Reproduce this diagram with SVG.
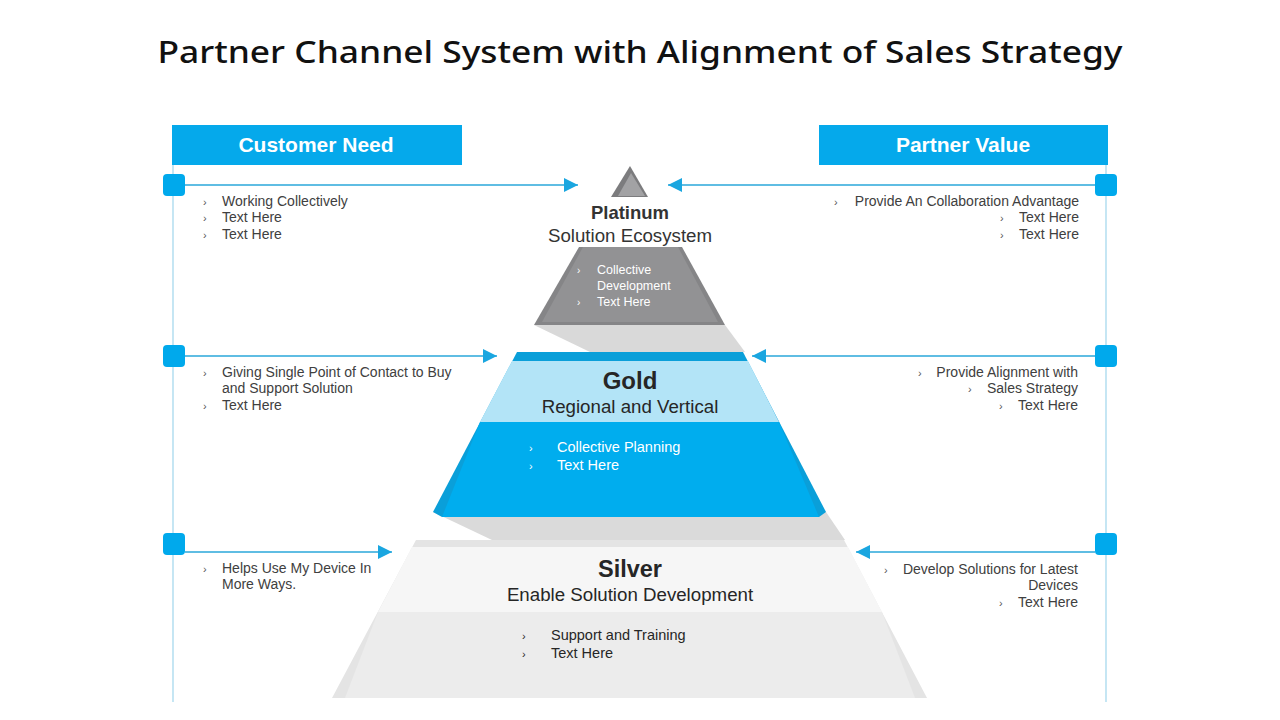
<svg xmlns="http://www.w3.org/2000/svg" width="1280" height="720" viewBox="0 0 1280 720">
<style>
.side{font-family:"Liberation Sans",Arial,sans-serif;font-size:14px;fill:#404040}
.bul{font-family:"Liberation Sans",Arial,sans-serif;font-size:11px;fill:#555}
.hdr{font-family:"Liberation Sans",Arial,sans-serif;font-size:21px;font-weight:bold;fill:#fff;text-anchor:middle}
.ttl{font-family:"Liberation Sans",Arial,sans-serif;font-weight:bold;text-anchor:middle}
.sub{font-family:"Liberation Sans",Arial,sans-serif;font-size:18.7px;text-anchor:middle}
.in{font-family:"Liberation Sans",Arial,sans-serif}
.vline{stroke:#9fd5ec;stroke-width:1.2;fill:none}
.hline{stroke:#2aa7da;stroke-width:1.3;fill:none}
.dot{fill:#00a9ec}
</style>
<defs>
<marker id="ah" viewBox="0 0 14 14" refX="14" refY="7" markerWidth="14" markerHeight="14" markerUnits="userSpaceOnUse" orient="auto">
<path d="M0,0 L14,7 L0,14 Z" fill="#1aa6e0"/>
</marker>
</defs>
<rect width="1280" height="720" fill="#fff"/>
<text x="640" y="63" font-family="'Noto Sans',sans-serif" font-size="31" font-weight="500" fill="#111" text-anchor="middle" textLength="965" lengthAdjust="spacingAndGlyphs">Partner Channel System with Alignment of Sales Strategy</text>

<g id="header-customer">
<rect x="172" y="125" width="290" height="40" fill="#05a9eb"/>
<text class="hdr" x="316" y="152">Customer Need</text>
</g>
<g id="header-partner">
<rect x="819" y="125" width="289" height="40" fill="#05a9eb"/>
<text class="hdr" x="963" y="152">Partner Value</text>
</g>

<g id="connectors">
<line class="vline" x1="173" y1="165" x2="173" y2="702"/>
<line class="vline" x1="1106" y1="165" x2="1106" y2="702"/>
<line class="hline" x1="185" y1="185" x2="578" y2="185" marker-end="url(#ah)"/>
<line class="hline" x1="1095" y1="185" x2="668" y2="185" marker-end="url(#ah)"/>
<line class="hline" x1="185" y1="356" x2="497" y2="356" marker-end="url(#ah)"/>
<line class="hline" x1="1095" y1="356" x2="752" y2="356" marker-end="url(#ah)"/>
<line class="hline" x1="185" y1="552" x2="392" y2="552" marker-end="url(#ah)"/>
<line class="hline" x1="1095" y1="552" x2="856" y2="552" marker-end="url(#ah)"/>
<rect class="dot" x="163" y="174" width="22" height="22" rx="4"/>
<rect class="dot" x="1095" y="174" width="22" height="22" rx="4"/>
<rect class="dot" x="163" y="345" width="22" height="22" rx="4"/>
<rect class="dot" x="1095" y="345" width="22" height="22" rx="4"/>
<rect class="dot" x="163" y="533" width="22" height="22" rx="4"/>
<rect class="dot" x="1095" y="533" width="22" height="22" rx="4"/>
</g>

<g id="shadows">
<polygon points="534,325 725,325 745,352 590,352" fill="#d9d9d9"/>
<polygon points="433,512 826,512 845,540 492,540" fill="#dadada"/>
</g>

<g id="platinum">
<polygon points="630,166 611,197 648,197" fill="#7c7c7e"/>
<polygon points="631,173 618,196 645,196" fill="#a2a2a4"/>
<text class="ttl" x="630" y="219" style="font-size:18.5px;fill:#333">Platinum</text>
<text class="sub" x="630" y="242" style="fill:#333">Solution Ecosystem</text>
<polygon points="579,247 682,247 725,325 534,325" fill="#858587"/>
<polygon points="583,247 678,247 718,322 542,322" fill="#929294"/>
<g class="in" style="fill:#fff;font-size:12.5px">
<text x="577" y="274" style="font-size:10px">›</text>
<text x="597" y="274">Collective</text>
<text x="597" y="290">Development</text>
<text x="577" y="306" style="font-size:10px">›</text>
<text x="597" y="306">Text Here</text>
</g>
</g>

<g id="gold">
<polygon points="517,352 743,352 826,512 819,517 442,517 433,512" fill="#0a9fd9"/>
<polygon points="512,361 748,361 779,422 480,422" fill="#b3e4f7"/>
<polygon points="480,422 779,422 819,517 442,517" fill="#00adee"/>
<text class="ttl" x="630" y="389" style="font-size:24px;fill:#262626">Gold</text>
<text class="sub" x="630" y="413" style="fill:#262626">Regional and Vertical</text>
<g class="in" style="fill:#fff;font-size:14.5px">
<text x="529" y="452" style="font-size:11px">›</text>
<text x="557" y="452">Collective Planning</text>
<text x="529" y="470" style="font-size:11px">›</text>
<text x="557" y="470">Text Here</text>
</g>
</g>

<g id="silver">
<polygon points="416,540 844,540 927,698 332,698" fill="#e4e4e4"/>
<polygon points="412,547 848,547 882,612 378,612" fill="#f6f6f6"/>
<polygon points="378,612 882,612 915,698 345,698" fill="#ececec"/>
<text class="ttl" x="630" y="577" style="font-size:23.5px;fill:#262626">Silver</text>
<text class="sub" x="630" y="601" style="fill:#262626">Enable Solution Development</text>
<g class="in" style="fill:#262626;font-size:14.5px">
<text x="522" y="640" style="font-size:11px">›</text>
<text x="551" y="640">Support and Training</text>
<text x="522" y="658" style="font-size:11px">›</text>
<text x="551" y="658">Text Here</text>
</g>
</g>

<g id="customer-texts">
<text class="bul" x="203" y="206">›</text><text class="side" x="222" y="206">Working Collectively</text>
<text class="bul" x="203" y="222">›</text><text class="side" x="222" y="222">Text Here</text>
<text class="bul" x="203" y="239">›</text><text class="side" x="222" y="239">Text Here</text>

<text class="bul" x="203" y="377">›</text><text class="side" x="222" y="377">Giving Single Point of Contact to Buy</text>
<text class="side" x="222" y="393">and Support Solution</text>
<text class="bul" x="203" y="410">›</text><text class="side" x="222" y="410">Text Here</text>

<text class="bul" x="203" y="573">›</text><text class="side" x="222" y="573">Helps Use My Device In</text>
<text class="side" x="222" y="589">More Ways.</text>
</g>

<g id="partner-texts">
<text class="bul" x="834" y="206">›</text><text class="side" x="1079" y="206" text-anchor="end">Provide An Collaboration Advantage</text>
<text class="bul" x="1000" y="222">›</text><text class="side" x="1079" y="222" text-anchor="end">Text Here</text>
<text class="bul" x="1000" y="239">›</text><text class="side" x="1079" y="239" text-anchor="end">Text Here</text>

<text class="bul" x="918" y="377">›</text><text class="side" x="1078" y="377" text-anchor="end">Provide Alignment with</text>
<text class="bul" x="968" y="393">›</text><text class="side" x="1078" y="393" text-anchor="end">Sales Strategy</text>
<text class="bul" x="999" y="410">›</text><text class="side" x="1078" y="410" text-anchor="end">Text Here</text>

<text class="bul" x="884" y="574">›</text><text class="side" x="1078" y="574" text-anchor="end">Develop Solutions for Latest</text>
<text class="side" x="1078" y="590" text-anchor="end">Devices</text>
<text class="bul" x="999" y="607">›</text><text class="side" x="1078" y="607" text-anchor="end">Text Here</text>
</g>
</svg>
